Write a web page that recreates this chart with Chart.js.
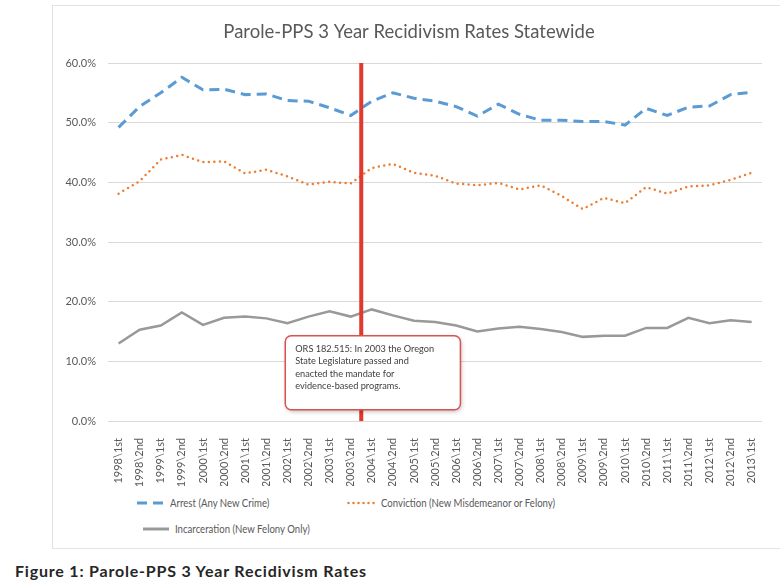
<!DOCTYPE html>
<html lang="en">
<head>
<meta charset="UTF-8">
<title>Parole-PPS 3 Year Recidivism Rates</title>
<script src="https://cdn.jsdelivr.net/npm/chart.js"></script>
<style>
    body {
        margin: 0;
        background: #fff;
        font-family: Lato, "Open Sans", sans-serif;
        overflow: hidden;
    }
    #frame {
        position: absolute;
        left: 52px;
        top: 5px;
        width: 740px;
        height: 544px;
        border: 1px solid #e2e2e2;
        box-sizing: border-box;
    }
    #chartBox {
        position: absolute;
        left: 0;
        top: 0;
        width: 721px;
        height: 480px;
    }
    .legend-item {
        position: absolute;
        font-size: 12px;
        color: #595959;
        white-space: nowrap;
        line-height: 14px;
    }
    .legend-item svg {
        vertical-align: middle;
        margin-right: 6px;
        position: relative;
        top: -1px;
    }
    .legend-item span {
        display: inline-block;
        transform: scaleX(0.8);
        transform-origin: left center;
    }
    #caption {
        position: absolute;
        left: 15px;
        top: 561px;
        font-size: 16px;
        font-weight: bold;
        letter-spacing: 0.8px;
        color: #262626;
        white-space: nowrap;
    }
</style>
</head>
<body>
<div id="frame">
    <div id="chartBox"><canvas id="lineChart"></canvas></div>
    <div class="legend-item" style="left:84px; top:490px;">
        <svg width="27" height="6"><line x1="0" y1="3" x2="27" y2="3" stroke="#5b9bd5" stroke-width="3" stroke-dasharray="10,6"/></svg><span>Arrest (Any New Crime)</span></div>
    <div class="legend-item" style="left:294px; top:490px;">
        <svg width="28" height="6"><line x1="1.5" y1="3" x2="28" y2="3" stroke="#ed7d31" stroke-width="2.5" stroke-linecap="round" stroke-dasharray="0,5"/></svg><span>Conviction (New Misdemeanor or Felony)</span></div>
    <div class="legend-item" style="left:90px; top:516px;">
        <svg width="26" height="6"><line x1="0" y1="3" x2="26" y2="3" stroke="#999999" stroke-width="3"/></svg><span>Incarceration (New Felony Only)</span></div>
</div>
<div id="caption">Figure 1: Parole-PPS 3 Year Recidivism Rates</div>

<script type="text/javascript">
    const periods = ['1998\\1st', '1998\\2nd', '1999\\1st', '1999\\2nd', '2000\\1st', '2000\\2nd', '2001\\1st', '2001\\2nd',
        '2002\\1st', '2002\\2nd', '2003\\1st', '2003\\2nd', '2004\\1st', '2004\\2nd', '2005\\1st', '2005\\2nd',
        '2006\\1st', '2006\\2nd', '2007\\1st', '2007\\2nd', '2008\\1st', '2008\\2nd', '2009\\1st', '2009\\2nd',
        '2010\\1st', '2010\\2nd', '2011\\1st', '2011\\2nd', '2012\\1st', '2012\\2nd', '2013\\1st'];

    // rates in percent
    const arrest = [49.2, 52.7, 55.0, 57.6, 55.5, 55.6, 54.7, 54.8, 53.7, 53.6, 52.5, 51.2, 53.6, 55.0, 54.1, 53.6,
        52.7, 51.1, 53.1, 51.4, 50.4, 50.4, 50.2, 50.2, 49.6, 52.4, 51.2, 52.6, 52.8, 54.7, 55.1];
    const conviction = [38.1, 40.2, 43.8, 44.6, 43.4, 43.5, 41.5, 42.1, 41.0, 39.6, 40.1, 39.8, 42.4, 43.1, 41.6, 41.1,
        39.8, 39.5, 39.9, 38.8, 39.5, 37.7, 35.5, 37.4, 36.5, 39.2, 38.1, 39.3, 39.5, 40.4, 41.6];
    const incarceration = [13.0, 15.3, 16.0, 18.2, 16.1, 17.3, 17.5, 17.2, 16.4, 17.5, 18.4, 17.5, 18.7, 17.7, 16.8, 16.6,
        16.0, 15.0, 15.5, 15.8, 15.4, 14.9, 14.1, 14.3, 14.3, 15.6, 15.6, 17.3, 16.4, 16.9, 16.6];

    const yTicks = [0, 10, 20, 30, 40, 50, 60];

    // ORS 182.515 marker sits between 2003\2nd and 2004\1st
    const policyIndex = 11.5;
    const noteLines = ['ORS 182.515: In 2003 the Oregon', 'State Legislature passed and',
        'enacted the mandate for', 'evidence-based programs.'];
    const noteBox = { fromIndex: 7.9, toIndex: 16.2, top: 14.3, bottom: 1.9 };

    Chart.defaults.font.family = 'Lato, "Open Sans", sans-serif';
    Chart.defaults.color = '#595959';

    const policyMarker = {
        id: 'policyMarker',
        afterDatasetsDraw(chart) {
            const ctx = chart.ctx;
            const x = chart.scales.x;
            const y = chart.scales.y;
            const px = x.getPixelForValue(policyIndex);

            ctx.save();
            // red vertical line
            ctx.strokeStyle = '#e0392e';
            ctx.lineWidth = 4;
            ctx.beginPath();
            ctx.moveTo(px, y.getPixelForValue(yTicks[yTicks.length - 1]));
            ctx.lineTo(px, y.getPixelForValue(0));
            ctx.stroke();

            // callout box
            const left = x.getPixelForValue(noteBox.fromIndex);
            const right = x.getPixelForValue(noteBox.toIndex);
            const top = y.getPixelForValue(noteBox.top);
            const bottom = y.getPixelForValue(noteBox.bottom);
            ctx.shadowColor = 'rgba(0,0,0,0.25)';
            ctx.shadowBlur = 4;
            ctx.shadowOffsetX = 1;
            ctx.shadowOffsetY = 2;
            ctx.beginPath();
            ctx.roundRect(left, top, right - left, bottom - top, 6);
            ctx.fillStyle = '#ffffff';
            ctx.fill();
            ctx.shadowColor = 'transparent';
            ctx.strokeStyle = '#d9534f';
            ctx.lineWidth = 1.5;
            ctx.stroke();

            ctx.fillStyle = '#404040';
            ctx.font = '9.2px Lato, "Open Sans", sans-serif';
            ctx.textBaseline = 'middle';
            noteLines.forEach((line, i) => {
                ctx.fillText(line, left + 10, top + 13 + i * 12.5);
            });
            ctx.restore();
        }
    };

    const ctx = document.getElementById('lineChart').getContext('2d');
    new Chart(ctx, {
        type: 'line',
        data: {
            labels: periods,
            datasets: [{
                label: 'Arrest (Any New Crime)',
                data: arrest,
                borderColor: '#5b9bd5',
                borderWidth: 3,
                borderDash: [10, 6],
                pointRadius: 0
            }, {
                label: 'Conviction (New Misdemeanor or Felony)',
                data: conviction,
                borderColor: '#ed7d31',
                borderWidth: 2.5,
                borderDash: [0, 5.5],
                borderCapStyle: 'round',
                pointRadius: 0
            }, {
                label: 'Incarceration (New Felony Only)',
                data: incarceration,
                borderColor: '#999999',
                borderWidth: 2.5,
                pointRadius: 0
            }]
        },
        options: {
            responsive: true,
            maintainAspectRatio: false,
            animation: false,
            layout: { padding: { left: 0, right: 9, top: 0, bottom: 0 } },
            plugins: {
                legend: { display: false },
                tooltip: { enabled: false },
                title: {
                    display: true,
                    text: 'Parole-PPS 3 Year Recidivism Rates Statewide',
                    color: '#595959',
                    font: { size: 18.5, weight: 'normal' },
                    padding: { top: 15, bottom: 19.8 }
                }
            },
            scales: {
                x: {
                    offset: true,
                    grid: { display: false },
                    border: { display: false },
                    ticks: {
                        autoSkip: false,
                        minRotation: 90,
                        maxRotation: 90,
                        padding: 9,
                        font: { size: 11 },
                        color: '#595959'
                    },
                    afterFit(scale) { scale.height = 65; }
                },
                y: {
                    min: 0,
                    max: 60,
                    grid: { color: '#d9d9d9', drawTicks: false },
                    border: { display: false },
                    ticks: {
                        stepSize: 10,
                        padding: 12,
                        font: { size: 11 },
                        color: '#595959',
                        callback: v => v.toFixed(1) + '%'
                    },
                    afterFit(scale) { scale.width = 55; }
                }
            }
        },
        plugins: [policyMarker]
    });
</script>
</body>
</html>
